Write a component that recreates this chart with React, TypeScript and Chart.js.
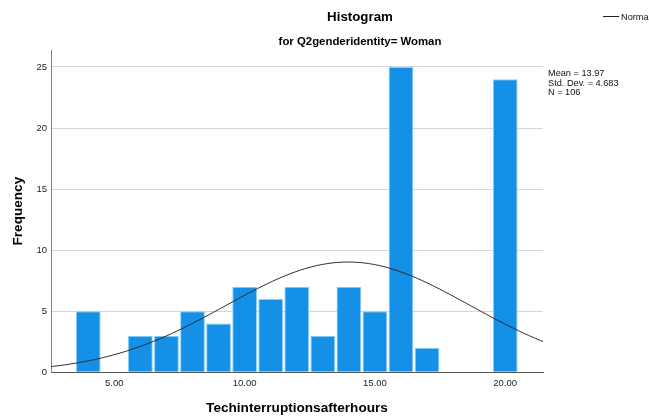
import React, { useEffect, useRef } from "react";
import { Chart, registerables } from "chart.js";

Chart.register(...registerables);

// Histogram bins (centred on whole numbers) and their counts
const binCenters = [4, 5, 6, 7, 8, 9, 10, 11, 12, 13, 14, 15, 16, 17, 18, 19, 20];
const frequencies = [5, 0, 3, 3, 5, 4, 7, 6, 7, 3, 7, 5, 25, 2, 0, 0, 24];

// Summary statistics shown beside the plot
const meanValue = 13.97;
const stdDev = 4.683;
const sampleSize = 106;
const binWidth = 1;

// Axis ticks and ranges
const xTickValues = [5, 10, 15, 20];
const yTickValues = [0, 5, 10, 15, 20, 25];
const xRange = [2.57, 21.45];
const yRange = [0, 26.39];

const FONT = "'Liberation Sans', Arial, sans-serif";

// Fitted normal curve, scaled to the histogram counts
function normalCurve() {
  const pts: { x: number; y: number }[] = [];
  const scale = (sampleSize * binWidth) / (stdDev * Math.sqrt(2 * Math.PI));
  const steps = 200;
  for (let i = 0; i <= steps; i++) {
    const x = xRange[0] + ((xRange[1] - xRange[0]) * i) / steps;
    const z = (x - meanValue) / stdDev;
    pts.push({ x, y: scale * Math.exp(-0.5 * z * z) });
  }
  return pts;
}

const annotations = {
  id: "histAnnotations",
  afterDraw(chart: any) {
    const ctx = chart.ctx as CanvasRenderingContext2D;
    ctx.save();
    ctx.fillStyle = "#000";
    ctx.textAlign = "center";
    ctx.textBaseline = "middle";
    ctx.font = `bold 13.3px ${FONT}`;
    ctx.fillText("Histogram", 360, 17);
    ctx.font = `bold 11.4px ${FONT}`;
    ctx.fillText("for Q2genderidentity= Woman", 360, 42);

    // statistics block
    ctx.textAlign = "left";
    ctx.font = `9.2px ${FONT}`;
    ctx.fillStyle = "#111";
    const stats = [
      `Mean = ${meanValue.toFixed(2)}`,
      `Std. Dev. = ${stdDev.toFixed(3)}`,
      `N = ${sampleSize}`,
    ];
    stats.forEach((s, i) => ctx.fillText(s, 548, 73.5 + i * 9.6));

    // legend for the curve
    ctx.strokeStyle = "#222";
    ctx.lineWidth = 1;
    ctx.beginPath();
    ctx.moveTo(603, 16.5);
    ctx.lineTo(619, 16.5);
    ctx.stroke();
    ctx.fillText("Normal", 621, 17);
    ctx.restore();
  },
};

export default function App() {
  const canvasRef = useRef<HTMLCanvasElement | null>(null);

  useEffect(() => {
    if (!canvasRef.current) return;
    const chart = new Chart(canvasRef.current, {
      type: "bar",
      data: {
        datasets: [
          {
            type: "line",
            label: "Normal",
            data: normalCurve(),
            borderColor: "#2a2a2a",
            borderWidth: 1,
            pointRadius: 0,
            tension: 0,
            fill: false,
          } as any,
          {
            type: "bar",
            label: "Frequency",
            data: binCenters.map((x, i) => ({ x, y: frequencies[i] })),
            backgroundColor: "#1490e6",
            borderColor: "#8ccdf7",
            borderWidth: 1,
            categoryPercentage: 1,
            barPercentage: 0.95,
          } as any,
        ],
      },
      plugins: [annotations],
      options: {
        animation: false,
        responsive: false,
        layout: { padding: { top: 50, right: 106, left: 0, bottom: 0 } },
        plugins: {
          legend: { display: false },
          tooltip: { enabled: false },
          title: { display: false },
        },
        scales: {
          x: {
            type: "linear",
            offset: false,
            min: xRange[0],
            max: xRange[1],
            afterBuildTicks: (s: any) => {
              s.ticks = xTickValues.map((v) => ({ value: v }));
            },
            afterFit: (s: any) => {
              s.height = 46.7;
            },
            grid: { display: false, drawTicks: false, offset: false },
            border: { display: true, color: "#555", width: 1 },
            ticks: {
              padding: 5,
              color: "#222",
              font: { family: FONT, size: 9.5 },
              callback: (v: any) => Number(v).toFixed(2),
            },
            title: {
              display: true,
              text: "Techinterruptionsafterhours",
              color: "#000",
              font: { family: FONT, size: 13.6, weight: "bold" },
              padding: { top: 0, bottom: 2.8 },
            },
          },
          y: {
            type: "linear",
            min: yRange[0],
            max: yRange[1],
            afterBuildTicks: (s: any) => {
              s.ticks = yTickValues.map((v) => ({ value: v }));
            },
            afterFit: (s: any) => {
              s.width = 51;
            },
            grid: { display: true, color: "#d6d6d6", lineWidth: 1, drawTicks: false },
            border: { display: true, color: "#808080", width: 1 },
            ticks: {
              padding: 4,
              color: "#222",
              font: { family: FONT, size: 9.5 },
            },
            title: {
              display: true,
              text: "Frequency",
              color: "#000",
              font: { family: FONT, size: 13.6, weight: "bold" },
              padding: { top: 9.8, bottom: 0 },
            },
          },
        },
      } as any,
    });
    return () => chart.destroy();
  }, []);

  return (
    <div style={{ position: "fixed", left: 0, top: 0, width: 649, height: 419, background: "#fff" }}>
      <canvas ref={canvasRef} width={649} height={419} />
    </div>
  );
}
